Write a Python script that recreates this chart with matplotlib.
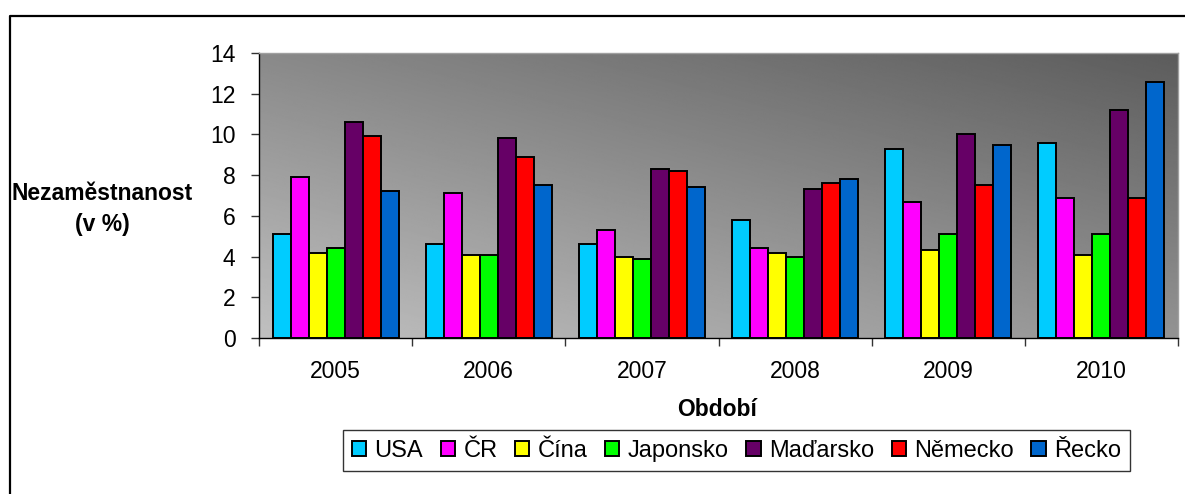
import numpy as np
import matplotlib
matplotlib.use('Agg')
import matplotlib.pyplot as plt
from matplotlib.lines import Line2D

plt.rcParams['font.family'] = ['Liberation Sans', 'DejaVu Sans']

# data
years = ['2005', '2006', '2007', '2008', '2009', '2010']
countries = ['USA', 'ČR', 'Čína', 'Japonsko', 'Maďarsko', 'Německo', 'Řecko']
usa      = [5.1, 4.6, 4.6, 5.8, 9.3, 9.6]
cr       = [7.9, 7.1, 5.3, 4.4, 6.7, 6.9]
cina     = [4.2, 4.1, 4.0, 4.2, 4.3, 4.1]
japonsko = [4.4, 4.1, 3.9, 4.0, 5.1, 5.1]
madarsko = [10.6, 9.8, 8.3, 7.3, 10.0, 11.2]
nemecko  = [9.9, 8.9, 8.2, 7.6, 7.5, 6.9]
recko    = [7.2, 7.5, 7.4, 7.8, 9.5, 12.6]
series = [usa, cr, cina, japonsko, madarsko, nemecko, recko]
colors = ['#00CCFF', '#FF00FF', '#FFFF00', '#00FF00', '#660066', '#FF0000', '#0066CC']

W, H = 1185, 494
fig = plt.figure(figsize=(W / 100, H / 100), dpi=100)
fig.patch.set_facecolor('white')

# plot area in pixels: x 259..1178, y 53..338
ax = fig.add_axes([259 / W, 1 - 338 / H, (1178 - 259) / W, (338 - 53) / H])

# diagonal grey gradient background (light bottom-left, dark top-right)
u = np.linspace(0, 1, 300)
v = np.linspace(1, 0, 300)
U, V = np.meshgrid(u, v)
grad = 192 - 45 * U - 55 * V
ax.imshow(grad, extent=[0, 1, 0, 1], transform=ax.transAxes, aspect='auto',
          cmap='gray', vmin=0, vmax=255, zorder=0, interpolation='bilinear')

x = np.arange(len(years))
bw = 1 / 8.5
for i, (vals, col, name) in enumerate(zip(series, colors, countries)):
    ax.bar(x + (i - 3) * bw, vals, width=bw, color=col, edgecolor='black',
           linewidth=1.4, label=name, zorder=2)

ax.set_xlim(-0.5, len(years) - 0.5)
ax.set_ylim(0, 14)
ax.set_yticks(np.arange(0, 15, 2))
ax.set_xticks(x)
ax.set_xticklabels(years)
ax.set_xticks(np.arange(-0.5, len(years)), minor=True)
ax.tick_params(axis='x', which='major', length=0, pad=16, labelsize=16.5)
ax.tick_params(axis='x', which='minor', length=6, width=1, color='#333333')
ax.tick_params(axis='y', length=6, width=1, pad=11, labelsize=16.5, color='#333333')

for s in ['left', 'bottom']:
    ax.spines[s].set_color('black')
    ax.spines[s].set_linewidth(1.0)
for s in ['top', 'right']:
    ax.spines[s].set_color('#a0a0a0')
    ax.spines[s].set_linewidth(1.0)

fig.text(717 / W, 1 - 410 / H, 'Období', ha='center', va='center',
         fontsize=16.5, fontweight='bold')
fig.text(102 / W, 1 - 209 / H, 'Nezaměstnanost\n(v %)', ha='center', va='center',
         fontsize=16.5, fontweight='bold', linespacing=1.4)

leg = fig.legend(loc='center', bbox_to_anchor=(736.5 / W, 1 - 450.5 / H), ncol=7,
                 fontsize=17, frameon=True, fancybox=False, handlelength=0.6,
                 handleheight=0.6, handletextpad=0.35, columnspacing=0.75,
                 borderpad=0.4, borderaxespad=0)
leg.get_frame().set_edgecolor('black')
leg.get_frame().set_linewidth(1.0)
for h in leg.legend_handles:
    h.set_linewidth(1.4)

# outer chart frame (left and top edges visible)
fig.add_artist(Line2D([10 / W, 10 / W, 1.0], [0.0, 1 - 16 / H, 1 - 16 / H],
                      transform=fig.transFigure, color='black', linewidth=1.6))

fig.savefig('out.png', dpi=100)
